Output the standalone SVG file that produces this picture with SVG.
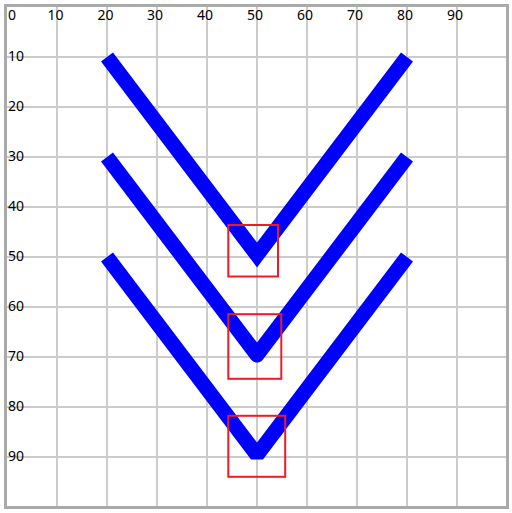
<svg xmlns="http://www.w3.org/2000/svg" width="512" height="513" viewBox="0 0 512 513">
<style>
.grid{stroke:#cccccc;stroke-width:2;fill:none}
.lbl{font-family:"Noto Sans","Open Sans",sans-serif;font-size:14px;fill:#000}
.v{fill:none;stroke:#0000ff;stroke-width:15}
.box{fill:none;stroke:#ed1c24;stroke-width:2}
</style>
<rect x="0" y="0" width="512" height="513" fill="#fff"/>
<g id="grid" class="grid">
<path d="M57 7V506M107 7V506M157 7V506M207 7V506M257 7V506M307 7V506M357 7V506M407 7V506M457 7V506"/>
<path d="M7 57H506M7 107H506M7 157H506M7 207H506M7 257H506M7 307H506M7 357H506M7 407H506M7 457H506"/>
</g>
<rect id="frame" x="5.5" y="5.5" width="502" height="502" fill="none" stroke="#aaaaaa" stroke-width="3"/>
<g id="xlabels" class="lbl">
<text x="8" y="20">0</text>
<text x="47.5" y="20">10</text>
<text x="97.5" y="20">20</text>
<text x="147" y="20">30</text>
<text x="197" y="20">40</text>
<text x="247" y="20">50</text>
<text x="297" y="20">60</text>
<text x="347" y="20">70</text>
<text x="397" y="20">80</text>
<text x="447" y="20">90</text>
</g>
<g id="ylabels" class="lbl">
<text x="8" y="61">10</text>
<text x="8" y="111">20</text>
<text x="8" y="161">30</text>
<text x="8" y="211">40</text>
<text x="8" y="261">50</text>
<text x="8" y="311">60</text>
<text x="8" y="361">70</text>
<text x="8" y="411">80</text>
<text x="8" y="461">90</text>
</g>
<g id="connectors">
<polyline id="miter" class="v" stroke-linejoin="miter" points="107,57 257,255 407,57"/>
<polyline id="round" class="v" stroke-linejoin="round" points="107,157 257,355 407,157"/>
<polyline id="bevel" class="v" stroke-linejoin="bevel" points="107,257 257,455 407,257"/>
</g>
<g id="boxes">
<rect id="box1" class="box" x="228.3" y="225" width="49.7" height="51.5"/>
<rect id="box2" class="box" x="228.3" y="314.2" width="53" height="64.6"/>
<rect id="box3" class="box" x="228.3" y="415.8" width="56.9" height="61"/>
</g>
</svg>
